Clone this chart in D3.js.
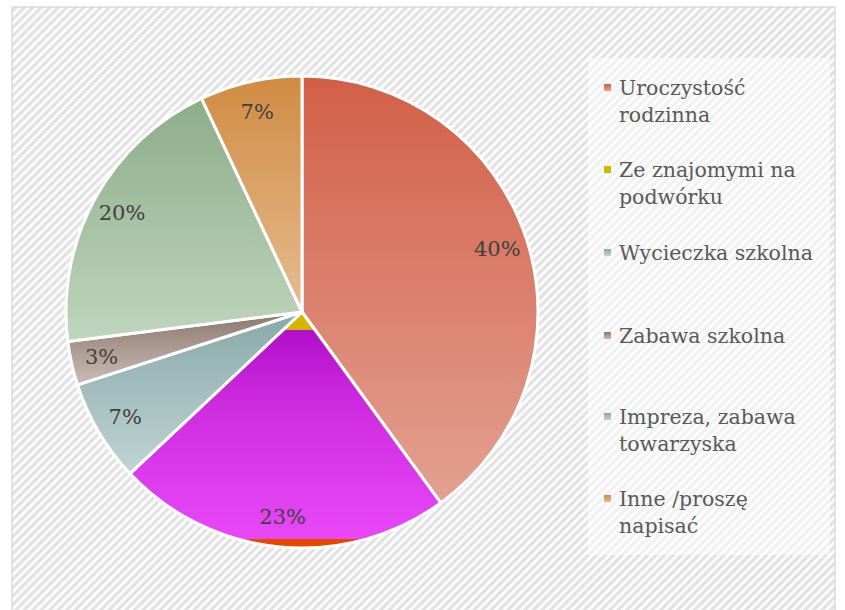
<!DOCTYPE html>
<html><head><meta charset="utf-8">
<script src="https://cdn.jsdelivr.net/npm/d3@7"></script>
<style>body{margin:0;background:#fff}svg{display:block}</style>
</head><body>
<script>
const categories = ["Uroczystość rodzinna","Ze znajomymi na podwórku","Wycieczka szkolna","Zabawa szkolna","Impreza, zabawa towarzyska","Inne /proszę napisać"];
const legendLines = [["Uroczystość","rodzinna"],["Ze znajomymi na","podwórku"],["Wycieczka szkolna"],["Zabawa szkolna"],["Impreza, zabawa","towarzyska"],["Inne /proszę","napisać"]];
const values = [40, 23, 7, 3, 20, 7];
const labels = ["40%","23%","7%","3%","20%","7%"];
const topColors = ["#d25f48","#d4b600","#88a8a9","#8b776d","#8dad89","#d08b42"];
const bottomColors = ["#e3a191","#d4b600","#c0d4d4","#cbbdb5","#c0d5be","#e5bd91"];

const W = 845, H = 610;
const svg = d3.select("body").append("svg").attr("width", W).attr("height", H);
const defs = svg.append("defs");

// hatched background
const pat = defs.append("pattern").attr("id","hatch").attr("patternUnits","userSpaceOnUse")
  .attr("width",6).attr("height",6).attr("patternTransform","rotate(45)");
pat.append("rect").attr("width",6).attr("height",6).attr("fill","#e2e2e2");
pat.append("rect").attr("width",3).attr("height",6).attr("fill","#fbfbfb");

svg.append("rect").attr("x",12).attr("y",7).attr("width",823).attr("height",610)
  .attr("fill","url(#hatch)").attr("stroke","#d4d4d4").attr("stroke-width",1.2);

// legend background
svg.append("rect").attr("x",588).attr("y",58).attr("width",242).attr("height",497)
  .attr("fill","#ffffff").attr("opacity",0.5);

const cx = 302, cy = 312, r = 236;

categories.forEach((c,i)=>{
  const g = defs.append("linearGradient").attr("id","g"+i).attr("x1",0).attr("y1",0).attr("x2",0).attr("y2",1);
  g.append("stop").attr("offset","0").attr("stop-color",topColors[i]);
  g.append("stop").attr("offset","1").attr("stop-color",bottomColors[i]);
});
// special gradient for the second slice (yellow tip, magenta overlay, red strip), in the pie group's local space
const y = d3.scaleLinear().domain([0,1]).range([0, r]);
const sg = defs.append("linearGradient").attr("id","gs").attr("gradientUnits","userSpaceOnUse")
  .attr("x1",0).attr("x2",0).attr("y1",y(0)).attr("y2",y(1));
[[0,"#d4b600"],[0.075,"#d4b600"],[0.075,"#b30fcc"],[0.4,"#cd2ddf"],[0.962,"#e948f8"],[0.962,"#e84700"],[1,"#e84700"]]
  .forEach(s=>sg.append("stop").attr("offset",s[0]).attr("stop-color",s[1]));

const pie = d3.pie().sort(null).value(d=>d);
const arcs = pie(values);
const arc = d3.arc().innerRadius(0).outerRadius(r);
const labelArc = d3.arc().innerRadius(r*0.87).outerRadius(r*0.87);

const gp = svg.append("g").attr("transform",`translate(${cx},${cy})`);
gp.selectAll("path.slice").data(arcs).join("path").attr("class","slice")
  .attr("d",arc)
  .attr("fill",(d,i)=> i===1 ? "url(#gs)" : `url(#g${i})`)
  .attr("stroke","#fff").attr("stroke-width",3).attr("stroke-linejoin","round");

gp.selectAll("text.lbl").data(arcs).join("text").attr("class","lbl")
  .attr("transform",d=>`translate(${labelArc.centroid(d)})`)
  .attr("text-anchor","middle").attr("dy","0.35em")
  .attr("font-family","'DejaVu Serif', serif").attr("font-size",21)
  .attr("fill","#404040").text((d,i)=>labels[i]);

// legend
const legendY = [95, 177, 260, 343, 424, 506];
const lg = svg.append("g");
categories.forEach((c,i)=>{
  const g = lg.append("g").attr("transform",`translate(604,${legendY[i]})`);
  g.append("rect").attr("x",0).attr("y",-11).attr("width",7).attr("height",7).attr("fill",`url(#g${i})`);
  const t = g.append("text").attr("x",15).attr("y",0)
    .attr("font-family","'DejaVu Serif', serif").attr("font-size",20.5).attr("fill","#595959");
  legendLines[i].forEach((ln,j)=> t.append("tspan").attr("x",15).attr("dy", j===0?0:27).text(ln));
});
</script>
</body></html>
